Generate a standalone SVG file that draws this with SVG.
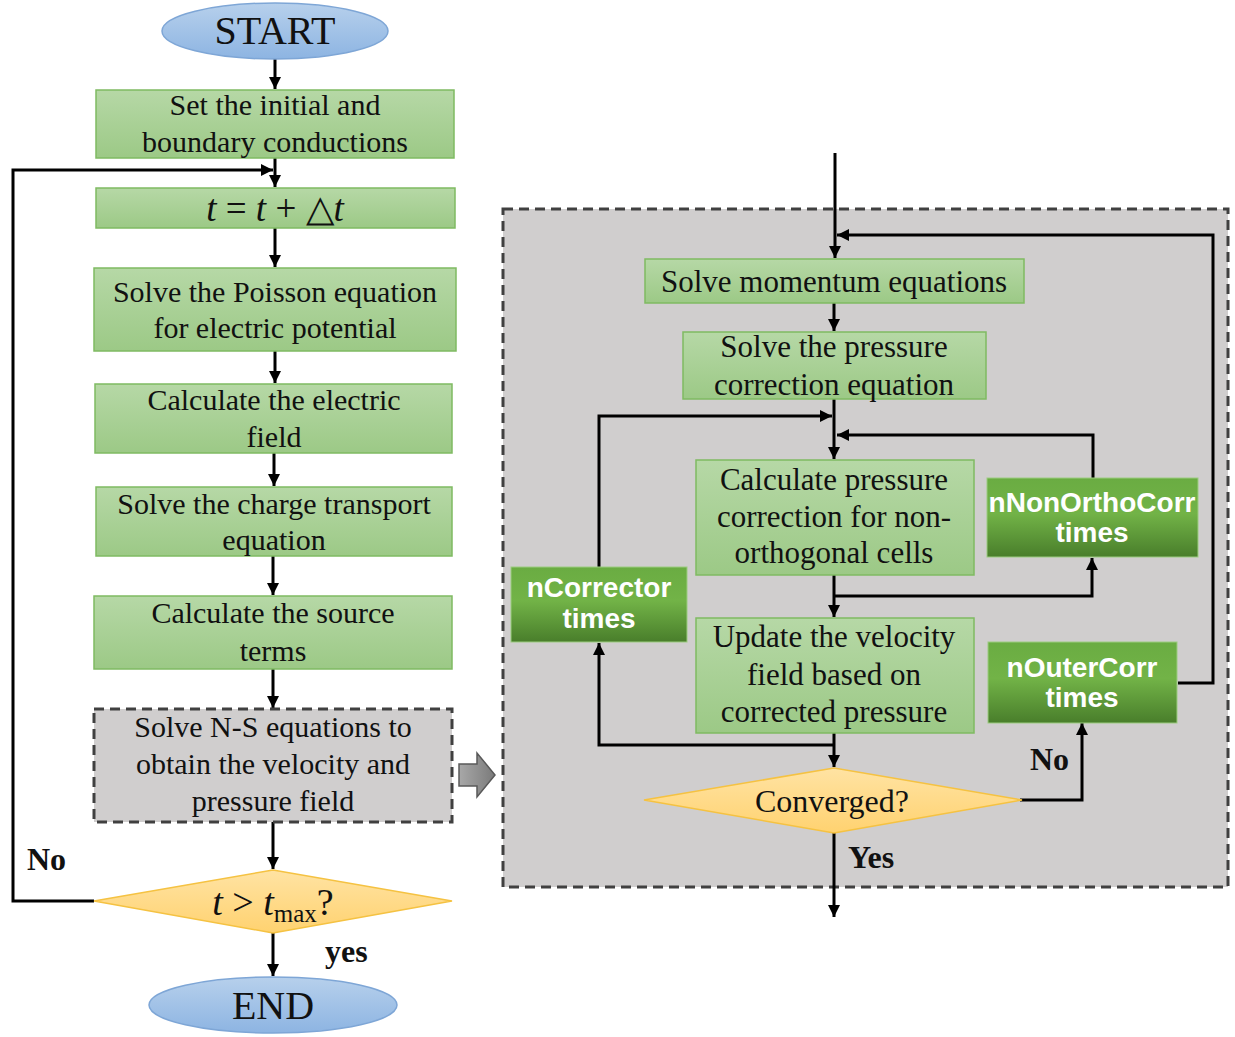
<svg xmlns="http://www.w3.org/2000/svg" width="1235" height="1037" viewBox="0 0 1235 1037">
<style>
.t{font-family:"Liberation Serif","Times New Roman",serif;font-size:30px;fill:#111;text-anchor:middle}
.r{font-size:31px}
.w{font-family:"Liberation Sans",Arial,sans-serif;font-size:28px;font-weight:bold;fill:#fff;text-anchor:middle}
.b{font-family:"Liberation Serif","Times New Roman",serif;font-size:32px;font-weight:bold;fill:#111}
.lg{fill:url(#gLight);stroke:#7fba62;stroke-width:1.5}
.dg{fill:url(#gDark);stroke:#9ccc80;stroke-width:1}
.gr{fill:#d0cece;stroke:#404040;stroke-width:3;stroke-dasharray:10 6}
.dm{fill:url(#gYel);stroke:#f5c242;stroke-width:1.5}
.el{fill:url(#gBlue);stroke:#7ea6d6;stroke-width:1.5}
.c{fill:none;stroke:#000;stroke-width:3}
.a{marker-end:url(#arr)}
</style>
<defs>
<linearGradient id="gLight" x1="0" y1="0" x2="0" y2="1"><stop offset="0" stop-color="#b6d8a6"/><stop offset="1" stop-color="#9cc986"/></linearGradient>
<linearGradient id="gDark" x1="0" y1="0" x2="0" y2="1"><stop offset="0" stop-color="#6aac42"/><stop offset="0.45" stop-color="#72b347"/><stop offset="1" stop-color="#497e2b"/></linearGradient>
<linearGradient id="gYel" x1="0" y1="0" x2="0" y2="1"><stop offset="0" stop-color="#ffe3a3"/><stop offset="1" stop-color="#ffd270"/></linearGradient>
<linearGradient id="gBlue" x1="0" y1="0" x2="0" y2="1"><stop offset="0" stop-color="#b7d0ec"/><stop offset="1" stop-color="#8db4e2"/></linearGradient>
<linearGradient id="gGray" x1="0" y1="0" x2="1" y2="0"><stop offset="0" stop-color="#a8a8a8"/><stop offset="1" stop-color="#7a7a7a"/></linearGradient>
<marker id="arr" viewBox="0 0 10 10" refX="10" refY="5" markerWidth="12" markerHeight="12" markerUnits="userSpaceOnUse" orient="auto"><path d="M0,0 L10,5 L0,10 z" fill="#000"/></marker>
</defs>

<g id="panel">
<rect x="503" y="209" width="725" height="678" class="gr"/>
</g>

<g id="bigArrow">
<polygon points="459,764 477,764 477,753 495,775 477,797 477,786 459,786" fill="url(#gGray)" stroke="#595959" stroke-width="1.5"/>
</g>

<g id="connectors">
<path class="c a" d="M275,59 V89"/>
<path class="c a" d="M275,158 V187"/>
<path class="c a" d="M94,901 H13 V170 H273"/>
<path class="c a" d="M275,228 V267"/>
<path class="c a" d="M275,351 V383"/>
<path class="c a" d="M274,453 V486"/>
<path class="c a" d="M273,556 V595"/>
<path class="c a" d="M273,669 V708"/>
<path class="c a" d="M273,822 V869"/>
<path class="c a" d="M273,933 V976"/>

<path class="c a" d="M835,153 V258"/>
<path class="c a" d="M1178,683 H1213 V235 H837"/>
<path class="c a" d="M834,303 V331"/>
<path class="c a" d="M834,399 V459"/>
<path class="c a" d="M599,568 V416 H832"/>
<path class="c a" d="M1093,478 V435 H837"/>
<path class="c a" d="M834,575 V617"/>
<path class="c a" d="M834,596 H1092 V558"/>
<path class="c a" d="M834,733 V767"/>
<path class="c a" d="M834,745 H599 V643"/>
<path class="c a" d="M1020,800 H1082 V723"/>
<path class="c a" d="M834,833 V917"/>
</g>

<g id="start">
<ellipse cx="275" cy="31" rx="113" ry="28" class="el"/>
<text x="275" y="44" class="t" style="font-size:40px">START</text>
</g>
<g id="init">
<rect x="96" y="90" width="358" height="68" class="lg"/>
<text x="275" y="115" class="t">Set the initial and</text>
<text x="275" y="152" class="t">boundary conductions</text>
</g>
<g id="timestep">
<rect x="96" y="188" width="359" height="40" class="lg"/>
<text x="275" y="221" class="t" style="font-size:37px"><tspan font-style="italic">t</tspan> = <tspan font-style="italic">t</tspan> + △<tspan font-style="italic">t</tspan></text>
</g>
<g id="poisson">
<rect x="94" y="268" width="362" height="83" class="lg"/>
<text x="275" y="302" class="t">Solve the Poisson equation</text>
<text x="275" y="338" class="t">for electric potential</text>
</g>
<g id="efield">
<rect x="95" y="384" width="357" height="69" class="lg"/>
<text x="274" y="410" class="t">Calculate the electric</text>
<text x="274" y="447" class="t">field</text>
</g>
<g id="charge">
<rect x="96" y="487" width="356" height="69" class="lg"/>
<text x="274" y="514" class="t">Solve the charge transport</text>
<text x="274" y="550" class="t">equation</text>
</g>
<g id="source">
<rect x="94" y="596" width="358" height="73" class="lg"/>
<text x="273" y="623" class="t">Calculate the source</text>
<text x="273" y="661" class="t">terms</text>
</g>
<g id="ns">
<rect x="94" y="709" width="358" height="113" class="gr"/>
<text x="273" y="737" class="t">Solve N-S equations to</text>
<text x="273" y="774" class="t">obtain the velocity and</text>
<text x="273" y="811" class="t">pressure field</text>
</g>
<g id="tmax">
<polygon points="94,901 273,870 452,901 273,933" class="dm"/>
<text x="273" y="915" class="t" style="font-size:38px"><tspan font-style="italic">t</tspan> &gt; <tspan font-style="italic">t</tspan><tspan font-size="25" dy="7">max</tspan><tspan dy="-7">?</tspan></text>
</g>
<g id="end">
<ellipse cx="273" cy="1005" rx="124" ry="28" class="el"/>
<text x="273" y="1019" class="t" style="font-size:40px">END</text>
</g>
<g id="labelsLeft">
<text x="27" y="870" class="b">No</text>
<text x="325" y="962" class="b">yes</text>
</g>

<g id="momentum">
<rect x="645" y="259" width="379" height="44" class="lg"/>
<text x="834" y="292" class="t r">Solve momentum equations</text>
</g>
<g id="pcorr">
<rect x="683" y="332" width="303" height="67" class="lg"/>
<text x="834" y="357" class="t r">Solve the pressure</text>
<text x="834" y="395" class="t r">correction equation</text>
</g>
<g id="nonortho">
<rect x="696" y="460" width="278" height="115" class="lg"/>
<text x="834" y="490" class="t r">Calculate pressure</text>
<text x="834" y="527" class="t r">correction for non-</text>
<text x="834" y="563" class="t r">orthogonal cells</text>
</g>
<g id="update">
<rect x="696" y="618" width="278" height="115" class="lg"/>
<text x="834" y="647" class="t r">Update the velocity</text>
<text x="834" y="685" class="t r">field based on</text>
<text x="834" y="722" class="t r">corrected pressure</text>
</g>
<g id="converged">
<polygon points="644,800 834,768 1022,800 834,833" class="dm"/>
<text x="832" y="812" class="t" style="font-size:32px">Converged?</text>
</g>
<g id="nNonOrthoCorr">
<rect x="987" y="478" width="211" height="79" class="dg"/>
<text x="1092" y="512" class="w">nNonOrthoCorr</text>
<text x="1092" y="542" class="w">times</text>
</g>
<g id="nCorrector">
<rect x="511" y="567" width="176" height="75" class="dg"/>
<text x="599" y="597" class="w">nCorrector</text>
<text x="599" y="628" class="w">times</text>
</g>
<g id="nOuterCorr">
<rect x="988" y="642" width="189" height="81" class="dg"/>
<text x="1082" y="677" class="w">nOuterCorr</text>
<text x="1082" y="707" class="w">times</text>
</g>
<g id="labelsRight">
<text x="1030" y="770" class="b">No</text>
<text x="848" y="868" class="b">Yes</text>
</g>
</svg>
